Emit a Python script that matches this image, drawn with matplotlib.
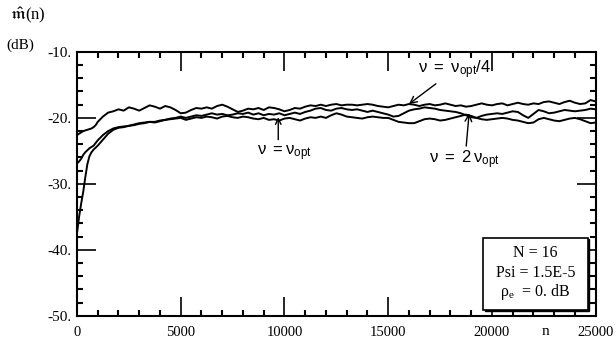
import numpy as np
import matplotlib
matplotlib.use('Agg')
import matplotlib.pyplot as plt
from matplotlib.patches import Rectangle
from matplotlib.ticker import MultipleLocator

plt.rcParams['font.family'] = ['Liberation Serif', 'DejaVu Serif']
plt.rcParams['mathtext.fontset'] = 'custom'
plt.rcParams['mathtext.rm'] = 'Liberation Sans'
plt.rcParams['mathtext.it'] = 'Liberation Sans'

# iteration index: every 100 up to 1000, then every 250
n_early = [0, 100, 200, 300, 400, 500, 600, 700, 800, 900, 1000]
n_late = list(range(1250, 25001, 250))
n = np.array(n_early + n_late)

# nu = nu_opt/4
quarter = [-22.6, -22.4, -22.2, -22.0, -21.9, -21.8, -21.7, -21.6, -21.4, -21.1, -20.6,
           -19.8, -19.2, -19.0, -18.7,
           -18.9, -18.4, -18.6, -18.9,
           -18.5, -18.1, -18.3, -18.6,
           -18.2, -18.4, -18.8, -19.3,
           -19.2, -18.8, -18.5, -18.6,
           -18.4, -18.6, -18.2, -18.0,
           -18.3, -18.7, -19.1, -18.9,
           -18.6, -18.7, -18.5, -18.8,
           -18.4, -18.5, -18.7, -19.0,
           -18.8, -18.5, -18.6, -18.3,
           -18.1, -18.2, -18.0, -18.2,
           -18.0, -17.9, -18.1, -18.0,
           -18.0, -18.1, -18.0, -17.9,
           -18.0, -18.2, -18.3, -18.4,
           -18.2, -18.0, -18.1, -17.9,
           -18.0, -18.2, -18.0, -17.9,
           -18.1, -18.0, -17.8, -18.0,
           -18.2, -18.1, -18.3, -18.2,
           -18.0, -17.8, -18.0, -18.1,
           -17.9, -17.8, -18.1, -17.9,
           -17.7, -17.9, -18.0, -17.8,
           -17.9, -17.6, -17.5, -17.7,
           -17.9, -17.6, -17.4, -17.7,
           -17.9, -17.8, -17.3, -17.5]

# nu = 2 nu_opt
double = [-26.9, -26.6, -26.2, -25.6, -25.2, -24.9, -24.6, -24.4, -24.2, -23.8, -23.4,
          -22.6, -22.0, -21.6, -21.4,
          -21.3, -21.2, -21.0, -20.8,
          -20.7, -20.6, -20.6, -20.4,
          -20.3, -20.1, -20.0, -19.8,
          -20.0, -19.8, -19.6, -19.7,
          -19.5, -19.3, -19.5, -19.4,
          -19.6, -19.5, -19.3, -19.4,
          -19.2, -19.5, -19.3, -19.6,
          -19.4, -19.5, -19.3, -19.6,
          -19.4, -19.2, -19.4, -19.1,
          -18.9, -18.6, -18.5, -18.8,
          -18.9, -18.6, -18.5, -18.7,
          -18.8, -18.7, -18.9, -19.1,
          -18.9, -19.1, -19.3, -19.5,
          -19.8, -19.7, -19.3, -18.9,
          -18.7, -18.6, -18.4, -18.5,
          -18.6, -18.8, -18.9, -19.0,
          -19.1, -19.3, -19.6, -19.9,
          -20.0, -19.7, -19.5, -19.4,
          -19.3, -19.4, -19.2, -19.0,
          -19.1, -19.6, -20.0, -19.4,
          -18.8, -19.0, -19.3, -19.2,
          -19.0, -18.8, -18.9, -19.0,
          -18.9, -18.8, -18.6, -18.7]

# nu = nu_opt
optimal = [-37.5, -35.0, -33.0, -31.2, -29.0, -27.0, -25.8, -25.2, -24.8, -24.5, -24.2,
           -23.3, -22.4, -21.8, -21.5,
           -21.4, -21.2, -21.1, -20.9,
           -20.8, -20.6, -20.7, -20.5,
           -20.3, -20.2, -20.1, -20.0,
           -20.3, -20.1, -19.9, -20.0,
           -19.8, -19.9, -20.1, -19.8,
           -19.7, -19.9, -20.0, -19.8,
           -19.9, -20.1, -20.2, -20.0,
           -20.3, -20.2, -20.4, -20.1,
           -20.0, -20.2, -20.4, -20.1,
           -19.9, -20.0, -19.8, -20.0,
           -19.6, -19.3, -19.5, -19.8,
           -19.9, -20.0, -20.1, -19.9,
           -19.8, -19.9, -20.0, -20.0,
           -20.3, -20.6, -20.7, -20.8,
           -20.8, -20.5, -20.2, -20.1,
           -20.2, -20.4, -20.3, -20.1,
           -19.9, -19.7, -19.5, -19.7,
           -20.0, -20.2, -20.3, -20.2,
           -20.1, -20.0, -20.1, -20.3,
           -20.4, -20.6, -20.8, -20.7,
           -20.2, -20.0, -20.2, -20.4,
           -20.5, -20.3, -20.1, -20.0,
           -20.2, -20.5, -20.8, -20.7]

xticks = [0, 5000, 10000, 15000, 20000, 25000]
xticklabels = ['0', '5000', '10000', '15000', '20000', '25000']
yticks = [-50, -40, -30, -20, -10]
yticklabels = ['-50.', '-40.', '-30.', '-20.', '-10.']

fig = plt.figure(figsize=(6.16, 3.46), dpi=100)
ax = fig.add_axes([0.125, 0.087, 0.842, 0.763])

for y in (quarter, double, optimal):
    ax.plot(n, y, color='black', lw=1.4)

ax.set_xlim(0, 25000)
ax.set_ylim(-50, -10)
ax.set_xticks(xticks)
ax.set_xticklabels(xticklabels, fontsize=10.5)
ax.set_yticks(yticks)
ax.set_yticklabels(yticklabels, fontsize=11)
ax.xaxis.set_minor_locator(MultipleLocator(1000))
ax.yaxis.set_minor_locator(MultipleLocator(2))
ax.tick_params(which='major', direction='in', length=14, width=1.2,
               top=True, right=True)
ax.tick_params(axis='x', which='major', pad=7)
ax.tick_params(axis='y', which='major', pad=4)
ax.tick_params(which='minor', direction='in', length=4, width=1.5,
               top=True, right=True)
for s in ax.spines.values():
    s.set_linewidth(1.5)

# "n" sits among the x tick labels
ax.text(22600, -51.4, 'n', ha='center', va='top', fontsize=11)

# axis label, top left
fig.text(0.016, 0.955, r'$\hat{\mathfrak{m}}$(n)', fontsize=12, ha='left', va='center')
fig.text(0.010, 0.868, '(dB)', fontsize=11, ha='left', va='center')

# curve annotations
lab = dict(fontsize=12, ha='center', va='center')
arr = dict(arrowstyle='->', color='black', lw=1.0, shrinkA=0, shrinkB=0)
ax.annotate(r'$\mathrm{\nu\ =\ \nu_{opt}/4}$', xy=(16000, -17.9), xytext=(18200, -12.7),
            arrowprops=arr, **lab)
ax.annotate(r'$\mathrm{\nu\ =\ 2\,\nu_{opt}}$', xy=(18900, -19.3), xytext=(18700, -26.4),
            arrowprops=arr, **lab)
ax.annotate('', xy=(9700, -19.9), xytext=(9700, -23.3), arrowprops=arr)
ax.text(10000, -25.3, r'$\mathrm{\nu\ =\nu_{opt}}$', **lab)

# parameter box with drop shadow
bx, by, bw, bh = 0.783, 0.023, 0.202, 0.272
ax.add_patch(Rectangle((bx + 0.003, by - 0.005), bw, bh, transform=ax.transAxes,
                       facecolor='black', edgecolor='black', zorder=4))
ax.add_patch(Rectangle((bx, by), bw, bh, transform=ax.transAxes,
                       facecolor='white', edgecolor='black', lw=1.2, zorder=5))
cx = bx + bw / 2
ax.text(cx, 0.239, 'N = 16', transform=ax.transAxes, fontsize=11.5, ha='center', va='center', zorder=6)
ax.text(cx, 0.163, 'Psi = 1.5E-5', transform=ax.transAxes, fontsize=11.5, ha='center', va='center', zorder=6)
ax.text(cx, 0.091, r'ρ$_\mathregular{e}$  = 0. dB', transform=ax.transAxes, fontsize=11.5,
        ha='center', va='center', zorder=6)

fig.savefig('out.png', dpi=100)
